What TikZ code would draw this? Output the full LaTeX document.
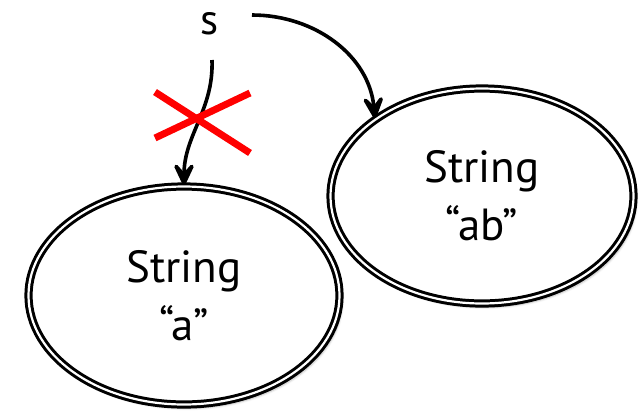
\documentclass[tikz,border=0pt]{standalone}
\usepackage{fontspec}
\setmainfont{PT Sans}
\usetikzlibrary{arrows.meta,shapes.geometric,shadows.blur}
\tikzset{
  strnode/.style={ellipse, draw, fill=white, line width=3pt, double=white,
    double distance=2.2pt, inner sep=0pt, align=center,
    font=\fontsize{45}{58}\selectfont,
    blur shadow={shadow xshift=3pt, shadow yshift=-4pt, shadow opacity=25, shadow blur steps=6}},
  refarrow/.style={line width=3.6pt, -{Stealth[length=32pt,width=30pt,inset=17pt,round,line width=5pt]}},
  cross/.style={draw=red, line width=7pt}
}
\begin{document}
\begin{tikzpicture}[x=1pt,y=-1pt]
\useasboundingbox (0,0) rectangle (639,413);
\node[strnode, minimum width=311pt, minimum height=218pt] (a) at (184,295.5) {String\\“a”};
\node[strnode, minimum width=303pt, minimum height=215pt] (ab) at (482,196) {String\\“ab”};
\node[inner sep=0pt, font=\fontsize{43}{57}\selectfont] (s) at (210,24) {s};
\coordinate (sA) at (212,60);
\coordinate (sB) at (252,15);
\draw[refarrow] (sB) to[out=0,in=95] (ab.144);
\draw[refarrow] (sA) to[out=-88,in=90] (a.north);
\draw[cross] (155,92) -- (250,153);
\draw[cross] (155,138) -- (250,93);
\end{tikzpicture}
\end{document}
